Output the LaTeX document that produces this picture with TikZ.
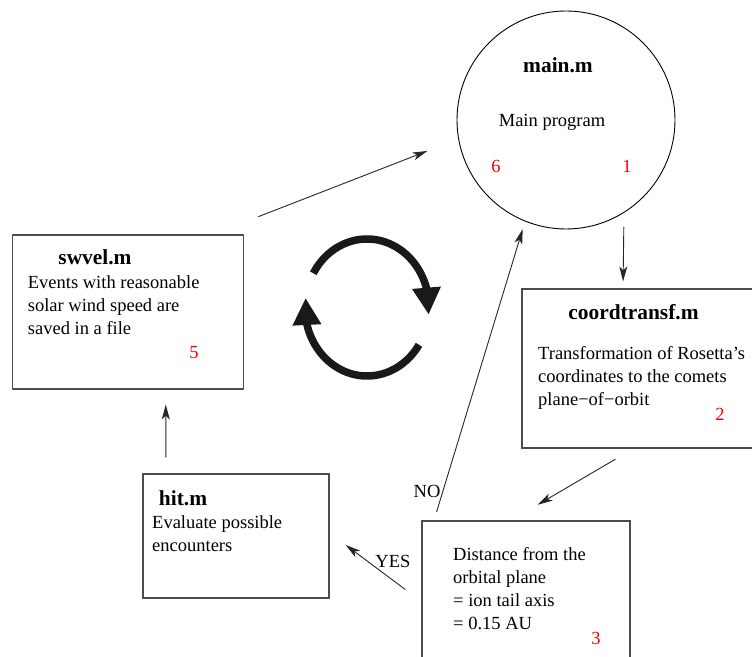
\documentclass[tikz,border=0pt]{standalone}
\usepackage{fontspec}
\setmainfont{Liberation Serif}
\usetikzlibrary{arrows.meta,bending,positioning}
\definecolor{stepred}{RGB}{255,0,0}

\begin{document}
\begin{tikzpicture}[x=1pt,y=1pt,>={Stealth[length=15pt,width=8pt,inset=4pt]},
                    flow/.style={->,line width=0.9pt,draw=black!85},
                    turn/.style={line width=7.5pt,draw=black!90,-{Triangle[length=27pt,width=27pt,flex]}},
                    font=\fontsize{18.5}{23}\selectfont]
  \tikzstyle{prog}=[draw=black!70,line width=1.2pt,inner sep=0pt]
  \tikzstyle{title}=[inner sep=0pt,anchor=base,font=\fontsize{21.4}{25}\selectfont\bfseries]
  \tikzstyle{desc}=[inner sep=0pt,anchor=north west,align=left]
  \tikzstyle{stepnr}=[inner sep=0pt,anchor=base,text=stepred]
  \tikzstyle{answer}=[inner sep=2pt]

  \useasboundingbox (0,0) rectangle (752,656);

  % main program
  \node[circle,draw=black,line width=0.9pt,minimum size=218pt,inner sep=0pt] (main) at (566,536) {};
  \node[title] (maintitle) at (558,583) {main.m};
  \node[anchor=base,inner sep=0pt] (maintext) at (552,529) {Main program};
  \node[stepnr] (six) at (496,483) {6};
  \node[stepnr] (one) at (627,483) {1};

  % the five scripts
  \node[prog,minimum width=233pt,minimum height=159pt] (coordtransf) at (638.5,287.5) {};
  \node[title] (coordtitle) at (633.5,336) {coordtransf.m};
  \node[desc] (coordtext) at (538,309.8) {Transformation of Rosetta's\\coordinates to the comets\\plane−of−orbit};
  \node[stepnr] (two) at (720,235) {2};

  \node[prog,minimum width=208pt,minimum height=145pt] (dist) at (526,62.5) {};
  \node[desc] (disttext) at (453,108.8) {Distance from the\\orbital plane\\= ion tail axis\\= 0.15 AU};
  \node[stepnr] (three) at (596,12) {3};

  \node[prog,minimum width=186pt,minimum height=124pt] (hit) at (236,120) {};
  \node[title] (hittitle) at (183,150) {hit.m};
  \node[desc] (hittext) at (152,140.8) {Evaluate possible\\encounters};

  \node[prog,minimum width=231pt,minimum height=154pt] (swvel) at (127.7,344) {};
  \node[title] (swveltitle) at (95,391) {swvel.m};
  \node[desc] (swveltext) at (27.7,380.8) {Events with reasonable\\solar wind speed are\\saved in a file};
  \node[stepnr] (five) at (194,297) {5};

  % flow between them
  \draw[flow,shorten <=14pt,shorten >=7pt] (main.-58.5) -- ([xshift=-15.5pt]coordtransf.north);
  \draw[flow,shorten <=21pt,shorten >=31pt] ([xshift=-5pt]coordtransf.south) -- ([xshift=-15pt]dist.north);
  \draw[flow,shorten <=9pt,shorten >=8pt] ([xshift=-92pt]dist.north)
        -- node[answer,pos=0.097,left] {NO} (main.-112.5);
  \draw[flow,shorten <=20pt,shorten >=20pt] ([yshift=-8pt]dist.west)
        -- node[answer,pos=0.31,above=10pt] {YES} ([yshift=3pt]hit.east);
  \draw[flow,shorten <=16pt,shorten >=15pt] ([xshift=-70pt]hit.north) -- ([xshift=38pt]swvel.south);
  \draw[flow,shorten <=49pt,shorten >=33pt] ([xshift=85pt]swvel.north) -- (main.190);

  % cycle symbol
  \coordinate (cyc) at (367,348.5);
  \draw[turn] ([shift={(150:62 and 68.5)}]cyc) arc[start angle=150,end angle=-6,x radius=62,y radius=68.5];
  \draw[turn] ([shift={(-33:62 and 68.5)}]cyc) arc[start angle=-33,end angle=-188,x radius=62,y radius=68.5];
\end{tikzpicture}
\end{document}
